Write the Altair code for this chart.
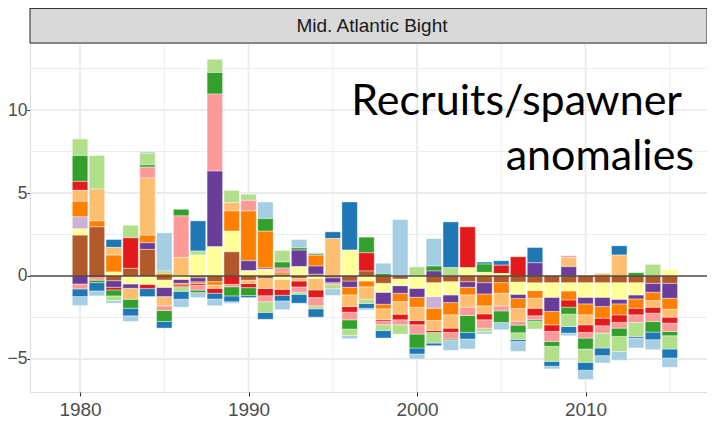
import altair as alt
import pandas as pd

years = list(range(1980, 2016))
species = ["Stock 01", "Stock 02", "Stock 03", "Stock 04", "Stock 05", "Stock 06",
           "Stock 07", "Stock 08", "Stock 09", "Stock 10", "Stock 11", "Stock 12"]
colors = ["#A6CEE3", "#1F78B4", "#B2DF8A", "#33A02C", "#FB9A99", "#E31A1C",
          "#FDBF6F", "#FF7F00", "#CAB2D6", "#6A3D9A", "#FFFF99", "#B15928"]

s01 = [-0.54, -0.3, -0.16, -0.34, 0.1, 2.3, -0.48, -0.3, -0.4, -0.1, 0, 1.0,
       -0.54, 0.5, 0.08, -0.4, -0.2, -0.1, 0.62, 3.4, -0.3, 1.66, -0.6, -0.6,
       -0.15, -0.44, -0.6, 0, -0.16, -0.16, -0.56, -0.44, -0.54, -0.6, -0.6, -0.56]
s02 = [-0.46, -0.5, 0.48, -0.46, -0.48, -0.4, -0.48, 1.82, -0.35, -0.35, -0.12, -0.42,
       -0.34, -0.54, -0.5, 0.4, 2.9, -0.3, -0.46, 0, -0.36, -0.16, 2.76, -0.4,
       0.12, 0.27, -0.12, 0.92, -0.3, -0.4, -0.48, -0.46, 0.56, -0.1, -0.46, -0.54]
s03 = [1.0, 2.02, -0.28, 0.76, 0.7, 0.15, -0.28, 0.24, 0.8, 0.74, 0.36, -0.64,
       0.7, -0.12, -0.18, -0.25, -0.38, -0.25, -0.34, -0.56, 0.55, -0.64, 0.5, 0,
       -0.2, 0, -0.4, -0.46, -0.9, -0.74, -0.8, -0.9, -0.9, -0.84, 0.7, -0.8]
s04 = [1.56, -0.15, -0.36, -0.54, 0.14, -0.66, 0.4, -0.15, 1.3, -0.55, -0.48, 0.76,
       0.36, 0.14, 0.08, 0, -0.56, 0.94, 0.15, 0, -0.84, 0.3, -0.08, -1.02,
       0.5, -0.7, -0.46, -0.1, -0.3, -0.42, -0.66, 0, -0.5, 0.2, -0.64, -0.26]
s05 = [-0.3, -0.15, 0, 0, 0.66, -0.28, 2.5, -0.3, 4.64, -0.15, 0.64, -0.36,
       0.26, -0.32, -0.5, -0.12, -0.46, 0, -0.2, -0.3, -0.56, 0, -0.4, -0.5,
       -0.5, -0.3, -0.24, -0.24, -0.6, 0.12, -0.34, -0.44, -0.34, -0.46, -0.5, -0.5]
s06 = [0.54, -0.1, -0.16, 1.84, -0.26, 0, -0.1, -0.1, -0.3, -0.5, -0.25, -0.44,
       -0.36, -0.36, -0.46, 0, -0.34, 1.1, -0.1, -0.34, -0.26, -0.12, -0.26, 2.46,
       -0.36, 0.5, 1.16, -0.46, -0.4, -0.44, -0.46, -0.46, -0.46, -0.4, -0.36, -0.36]
s07 = [0.66, 1.92, 0.46, -0.66, 3.44, -0.56, 1.12, 0, -0.2, 0.5, -0.2, -0.6,
       -0.6, -0.16, -0.7, 2.26, -0.7, -0.75, -0.66, -0.76, -0.8, -0.6, -0.8, -0.74,
       -0.48, -0.76, -0.76, -0.6, 0, 0.54, -0.6, 0.16, 1.26, 0, -0.4, -0.48]
s08 = [0.94, 0.36, 1.02, 0, 0.46, 0.15, -0.1, -0.1, -0.2, 1.22, 3.0, 2.22,
       0.12, 0, 0.65, 0, -0.46, -0.35, -0.28, -0.5, -0.6, -0.74, -0.74, -0.46,
       -0.72, -0.64, -0.6, -0.46, -0.8, -0.54, -0.66, -0.7, -0.66, -0.56, -0.5, -0.66]
s09 = [0.72, 0, 0, 0, 0, 0, 0, 0, 0, 0, 0, 0,
       0, 0, 0, 0, 0, 0, 0, 0, 0, -0.7, 0, 0,
       0, 0, 0, 0, 0, 0, 0, 0, 0, 0, 0, 0]
s10 = [-0.48, 0, -0.4, -0.26, 0.4, -0.56, -0.24, -0.25, 4.56, 0, 0.6, 0.08,
       0, 1.0, 0.5, -0.3, -0.38, 0, -0.72, -0.46, -0.54, 0.3, -0.46, -0.34,
       -0.68, 0, -0.26, 0.8, -0.86, 0.56, -0.4, -0.56, -0.28, -0.24, -0.54, -0.9]
s11 = [0.38, 0, 0.24, -0.48, -0.5, -0.44, -0.2, 1.26, 1.76, 1.24, 0.32, 0.4,
       -0.2, 0.56, -0.14, 0, 1.56, -0.3, -0.54, -0.4, -0.74, -0.84, -0.8, 0.5,
       0.22, 0.15, -0.74, -0.48, -0.88, -0.5, -0.88, -0.88, -1.0, -0.74, 0, 0.4]
s12 = [2.46, 2.96, -0.28, 0.46, 1.6, -0.24, 0, -0.1, -0.34, 1.46, -0.25, -0.15,
       0.1, -0.14, 0.1, -0.1, -0.3, 0.3, -0.44, -0.18, 0, -0.4, -0.34, -0.34,
       -0.4, -0.4, -0.36, -0.4, -0.4, -0.4, -0.4, -0.4, -0.4, -0.4, -0.44, -0.44]

series = [s01, s02, s03, s04, s05, s06, s07, s08, s09, s10, s11, s12]

x_major = [1980, 1990, 2000, 2010]
x_minor = [1985, 1995, 2005, 2015]
y_major = [-5, 0, 5, 10]
y_minor = [-2.5, 2.5, 7.5, 12.5]
zero_line = [0]
strip_title = "Mid. Atlantic Bight"
note_lines = ["Recruits/spawner", "anomalies"]

rows = []
for i, (sp, vals) in enumerate(zip(species, series)):
    for yr, v in zip(years, vals):
        if v != 0:
            rows.append({"year": yr, "species": sp, "idx": i + 1, "value": v})
df = pd.DataFrame(rows)

W, H = 677, 349
xs = alt.Scale(domain=[1977.03, 1977.03 + W / 16.85], nice=False, zero=False)
ys = alt.Scale(domain=[-6.99, 14.04], nice=False, zero=False)
GRID = "#EBEBEB"

x_axis = alt.Axis(values=x_major, format="d", title=None, grid=False, domain=False,
                  tickColor="#333333", tickSize=4, tickWidth=1.1, labelPadding=4,
                  labelFont="Liberation Sans", labelFontSize=19, labelColor="#4D4D4D")
y_axis = alt.Axis(values=y_major, title=None, grid=False, domain=False,
                  tickColor="#333333", tickSize=3, tickWidth=1.1, labelPadding=0,
                  labelFont="Liberation Sans", labelFontSize=17.5, labelColor="#4D4D4D")

xmaj = alt.Chart(pd.DataFrame({"v": x_major})).mark_rule(color=GRID, strokeWidth=1.8).encode(
    x=alt.X("v:Q", scale=xs, axis=x_axis))
xmin = alt.Chart(pd.DataFrame({"v": x_minor})).mark_rule(color=GRID, strokeWidth=0.9).encode(
    x=alt.X("v:Q", scale=xs, axis=x_axis))
ymaj = alt.Chart(pd.DataFrame({"v": y_major})).mark_rule(color=GRID, strokeWidth=1.8).encode(
    y=alt.Y("v:Q", scale=ys, axis=y_axis))
ymin = alt.Chart(pd.DataFrame({"v": y_minor})).mark_rule(color=GRID, strokeWidth=0.9).encode(
    y=alt.Y("v:Q", scale=ys, axis=y_axis))

bars = alt.Chart(df).transform_stack(
    stack="value", groupby=["year"], as_=["y0", "y1"], offset="zero",
    sort=[alt.SortField("idx", order="descending")]
).transform_calculate(
    x0="datum.year - 0.46", x1="datum.year + 0.46"
).mark_rect(stroke="white", strokeWidth=0.5, strokeOpacity=0.8).encode(
    x=alt.X("x0:Q", scale=xs, axis=x_axis),
    x2="x1:Q",
    y=alt.Y("y0:Q", scale=ys, axis=y_axis),
    y2="y1:Q",
    color=alt.Color("species:N", scale=alt.Scale(domain=species, range=colors), legend=None),
)

hline = alt.Chart(pd.DataFrame({"v": zero_line})).mark_rule(
    color="#333333", strokeWidth=1.4, opacity=0.85).encode(y=alt.Y("v:Q", scale=ys, axis=y_axis))

strip = alt.Chart(pd.DataFrame({"t": [strip_title]})).mark_rect(
    fill="#D9D9D9", stroke="#333333", strokeWidth=1.1).encode(
    x=alt.value(0), x2=alt.value(W), y=alt.value(-34.5), y2=alt.value(0))
strip_text = alt.Chart(pd.DataFrame({"t": [strip_title]})).mark_text(
    font="Liberation Sans", fontSize=19, color="#1A1A1A", baseline="middle", align="center").encode(
    x=alt.value(342), y=alt.value(-17), text="t:N")

note1 = alt.Chart(pd.DataFrame({"t": [note_lines[0]]})).mark_text(
    font="Lato", fontSize=43, color="#000000", align="right", baseline="alphabetic").encode(
    x=alt.value(652), y=alt.value(72), text="t:N")
note2 = alt.Chart(pd.DataFrame({"t": [note_lines[1]]})).mark_text(
    font="Lato", fontSize=43, color="#000000", align="right", baseline="alphabetic").encode(
    x=alt.value(664), y=alt.value(127), text="t:N")

chart = alt.layer(xmin, xmaj, ymin, ymaj, bars, hline, strip, strip_text, note1, note2).properties(
    width=W, height=H,
    autosize=alt.AutoSizeParams(type="none"),
    padding={"left": 22, "top": 35, "right": 0, "bottom": 26},
).configure_view(stroke="#333333", strokeWidth=1.1, fill="white").configure(background="white")

chart.save("out.html", embed_options={"renderer": "svg", "actions": False})
